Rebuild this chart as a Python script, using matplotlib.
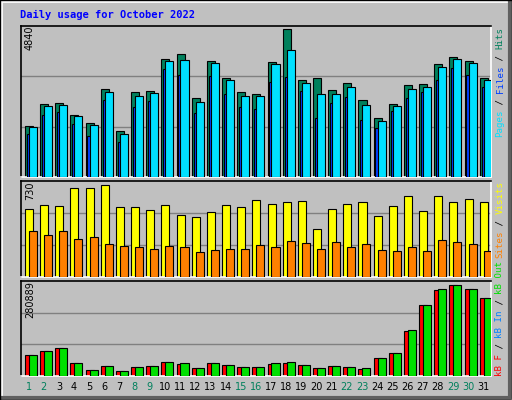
import matplotlib
matplotlib.use("Agg")
import matplotlib.pyplot as plt
from matplotlib.lines import Line2D
import numpy as np

days = list(range(1, 32))
weekend = [1, 2, 8, 9, 15, 16, 22, 23, 29, 30]
hits = [1650, 2330, 2360, 1980, 1720, 2810, 1460, 2710, 2750, 3770, 3930, 2520, 3710, 3160, 2710, 2650,
        3680, 4730, 3100, 3160, 2780, 3000, 2460, 1880, 2330, 2940, 2970, 3610, 3840, 3710, 3160]
pages = [1590, 2270, 2300, 1950, 1660, 2710, 1370, 2590, 2680, 3710, 3740, 2390, 3640, 3100, 2590, 2590,
         3610, 4060, 3000, 2650, 2650, 2870, 2300, 1790, 2270, 2810, 2870, 3520, 3770, 3640, 3100]
files = [1370, 1980, 2070, 1690, 1300, 2460, 1110, 2230, 2430, 3450, 3260, 2040, 3230, 2650, 2230, 2170,
         3040, 3200, 2750, 1880, 2360, 2550, 1820, 1560, 2110, 2520, 2710, 3100, 3480, 3260, 2870]
visits = [517, 548, 540, 677, 677, 700, 532, 532, 510, 548, 472, 456, 494, 548, 532, 586,
          555, 570, 578, 365, 517, 555, 570, 464, 540, 616, 502, 616, 570, 593, 570]
sites = [350, 319, 350, 289, 304, 251, 236, 228, 213, 236, 228, 190, 205, 213, 213, 243,
         228, 274, 259, 213, 266, 228, 251, 205, 198, 228, 198, 281, 266, 251, 198]
kb_f = [63100, 74900, 83800, 39400, 18700, 30600, 15800, 27600, 30600, 42400, 36500, 24600, 39400, 33500, 27600, 27600,
        36500, 39400, 33500, 24600, 30600, 27600, 21700, 54200, 69000, 134000, 210900, 255000, 270100, 258200, 231600]
kb_in = [63100, 74900, 83800, 39400, 18700, 30600, 15800, 27600, 30600, 42400, 39400, 24600, 39400, 33500, 27600, 27600,
         39400, 42400, 33500, 24600, 30600, 27600, 24600, 54200, 69000, 137000, 210900, 258200, 270100, 258200, 231600]
max_top, max_mid, max_bot = 4840, 730, 280889

W, H = 512, 400
BG = "#C0C0C0"
fig = plt.figure(figsize=(W / 100, H / 100), dpi=100, facecolor=BG)
MONO = "DejaVu Sans Mono"

def px_axes(y0, y1):
    return fig.add_axes([21 / W, 1 - y1 / H, 470 / W, (y1 - y0) / H])

x = np.array(days, dtype=float)
ew = 0.8

def style(ax, ymax):
    ax.set_facecolor(BG)
    ax.set_xlim(0.5, 31.5)
    ax.set_ylim(0, ymax)
    for g in (ymax / 3, 2 * ymax / 3):
        ax.axhline(g, color="#808080", lw=1, zorder=0)
    ax.set_yticks([])
    ax.tick_params(length=0)
    for s in ("left", "top"):
        ax.spines[s].set_color("black")
    for s in ("right", "bottom"):
        ax.spines[s].set_color("white")
    for s in ax.spines.values():
        s.set_linewidth(1.2)

ax1 = px_axes(26, 177)
style(ax1, max_top)
ax1.bar(x - 0.24, hits, width=0.53, align="edge", color="#00805C", edgecolor="black", lw=ew, zorder=2)
ax1.bar(x - 0.12, files, width=0.4, align="edge", color="#0040FF", edgecolor="black", lw=ew, zorder=3)
ax1.bar(x + 0.02, pages, width=0.53, align="edge", color="#00E0FF", edgecolor="black", lw=ew, zorder=4)
ax1.set_xticks([])

ax2 = px_axes(181, 277)
style(ax2, max_mid)
ax2.bar(x - 0.24, visits, width=0.53, align="edge", color="#FFFF00", edgecolor="black", lw=ew, zorder=2)
ax2.bar(x + 0.02, sites, width=0.53, align="edge", color="#FF8000", edgecolor="black", lw=ew, zorder=3)
ax2.set_xticks([])

ax3 = px_axes(281, 376)
style(ax3, max_bot)
ax3.bar(x - 0.24, kb_f, width=0.53, align="edge", color="#FF0000", edgecolor="black", lw=ew, zorder=2)
ax3.bar(x + 0.02, kb_in, width=0.53, align="edge", color="#00E000", edgecolor="black", lw=ew, zorder=3)
ax3.set_xticks(x)
ax3.set_xticklabels([str(d) for d in days], fontsize=7, family="DejaVu Sans")
ax3.tick_params(axis="x", pad=4)
for lbl, d in zip(ax3.get_xticklabels(), days):
    lbl.set_color("#00805C" if d in weekend else "black")

# title
fig.text(20 / W, 1 - 15 / H, "Daily usage for October 2022", color="#0000FF", fontsize=7.5,
         family=MONO, weight="bold", va="center", ha="left")

# left max labels
for txt, ytop in ((str(max_top), 26), (str(max_mid), 181), (str(max_bot), 281)):
    fig.text(30 / W, 1 - ytop / H, txt, rotation=90, fontsize=7, family="DejaVu Sans",
             va="top", ha="center")

# right rotated labels
CH = 5.5
def rlabel(ystart, pieces):
    y = ystart
    for t, c in pieces:
        fig.text(500 / W, 1 - y / H, t, rotation=90, color=c, fontsize=6.6, family=MONO,
                 va="bottom", ha="center")
        y -= len(t) * CH

rlabel(137, [("Pages", "#00E0FF"), (" / ", "black"), ("Files", "#0040FF"), (" / ", "black"), ("Hits", "#00805C")])
rlabel(258, [("Sites", "#FF8000"), (" / ", "black"), ("Visits", "#FFFF00")])
rlabel(376, [("kB F", "#FF0000"), (" / ", "black"), ("kB In", "#0080FF"), (" / ", "black"), ("kB Out", "#00E000")])

# outer bevel
fig.add_artist(Line2D([1 / W, 1 / W, 1 - 1 / W], [1 / H, 1 - 1 / H, 1 - 1 / H], color="white", lw=2, transform=fig.transFigure))
fig.add_artist(Line2D([1 / W, 1 - 2 / W, 1 - 2 / W], [2 / H, 2 / H, 1 - 1 / H], color="#606060", lw=3, transform=fig.transFigure))
fig.add_artist(Line2D([0, 0, 1, 1, 0], [0, 1, 1, 0, 0], color="black", lw=1, transform=fig.transFigure))

fig.savefig("out.png", dpi=100, facecolor=BG)
